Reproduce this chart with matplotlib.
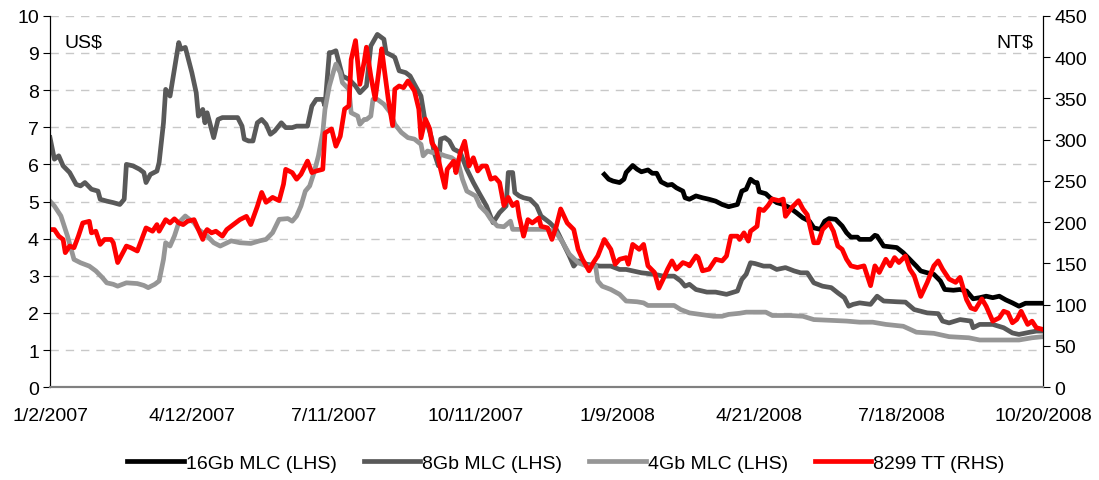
import matplotlib.pyplot as plt

plt.rcParams['font.family'] = ['Liberation Sans Narrow', 'Liberation Sans', 'DejaVu Sans']

tick_pos = [0, 65, 130, 195, 260, 325, 390, 455]
tick_labels = ['1/2/2007', '4/12/2007', '7/11/2007', '10/11/2007', '1/9/2008',
               '4/21/2008', '7/18/2008', '10/20/2008']

# trading-day index / price (US$) 16Gb MLC
x16 = [254, 256, 258, 261, 263, 264, 267, 269, 271, 274, 276, 278, 280, 283, 285, 287, 290, 291, 293,
       296, 299, 302, 305, 308, 311, 315, 317, 319, 321, 323, 324, 325, 328, 330, 333, 336, 339, 342,
       345, 348, 350, 353, 355, 357, 360, 363, 365, 367, 370,
       371, 376, 378, 379, 382, 385, 388, 391, 394, 397, 399, 402, 405, 408, 410, 414, 417, 420, 423,
       426, 429, 432, 435, 438, 441, 444, 447, 450, 455]
y16 = [5.73, 5.6, 5.55, 5.51, 5.6, 5.78, 5.97, 5.87, 5.8, 5.85, 5.76, 5.76, 5.53, 5.44, 5.46, 5.37, 5.28, 5.1, 5.06,
       5.15, 5.1, 5.06, 5.01, 4.92, 4.86, 4.92, 5.28, 5.33, 5.6, 5.51, 5.51, 5.26, 5.21, 5.1, 4.97, 4.92, 4.83, 4.7,
       4.56, 4.47, 4.29, 4.25, 4.47, 4.54, 4.52, 4.34, 4.16, 4.04, 4.04,
       3.98, 3.98, 4.09, 4.07, 3.8, 3.78, 3.76, 3.62, 3.44, 3.26, 3.13, 3.08, 3.04, 2.86, 2.63, 2.61, 2.63, 2.59, 2.38,
       2.41, 2.45, 2.41, 2.45, 2.35, 2.27, 2.18, 2.26, 2.26, 2.26]

# 8Gb MLC
x8 = [0, 2, 4, 6, 9, 12, 14, 16, 19, 22, 23, 26, 29, 32, 34, 35, 38, 41, 43, 44, 46, 49, 50, 52, 53, 55, 57,
      59, 60, 62, 65, 67, 68, 70, 71, 72, 75, 77, 79, 83, 86, 88, 89, 91, 93, 95, 97, 99, 101, 103, 106, 108,
      111, 113, 116, 118, 120, 122, 125, 126, 128, 129, 131, 132, 134, 137, 140, 142, 145, 147, 150, 153, 154,
      157, 158, 160, 163, 165, 167, 170, 172, 173, 175, 176, 178, 179, 181, 183, 185, 188, 191, 194, 197, 200,
      203, 206, 209, 210, 212, 213, 215, 217, 220, 223, 225, 229, 232, 235, 238, 240, 242, 246, 252, 257, 261,
      264, 271, 277, 281, 286, 289, 291, 293, 296, 301, 305, 310, 315, 317, 319, 321, 323, 327, 330, 333, 337,
      341, 344, 347, 350, 354, 358, 361, 364, 366, 368, 371, 376, 379, 382, 388, 392, 396, 402, 407, 409, 412,
      417, 422, 423, 426, 432, 437, 441, 444, 449, 452, 455]
y8 = [6.72, 6.14, 6.23, 5.96, 5.78, 5.46, 5.42, 5.51, 5.33, 5.28, 5.06, 5.01, 4.97, 4.92, 5.06, 6.0, 5.96, 5.87,
      5.78, 5.51, 5.73, 5.82, 6.05, 7.12, 8.02, 7.84, 8.56, 9.28, 9.1, 9.15, 8.47, 7.93, 7.3, 7.48, 7.12, 7.39,
      6.72, 7.21, 7.26, 7.26, 7.26, 7.03, 6.68, 6.63, 6.63, 7.12, 7.21, 7.08, 6.81, 6.9, 7.12, 6.99, 6.99, 7.03,
      7.03, 7.03, 7.57, 7.75, 7.75, 7.57, 9.01, 9.01, 9.06, 8.83, 8.38, 8.29, 8.11, 7.93, 8.11, 9.19, 9.5, 9.37,
      9.01, 8.92, 8.88, 8.52, 8.47, 8.38, 8.16, 7.84, 7.12, 7.08, 6.68, 6.32, 5.96, 6.68, 6.72, 6.63, 6.41, 6.32,
      5.87, 5.51, 5.19, 4.88, 4.43, 4.7, 4.88, 5.78, 5.78, 5.24, 5.15, 5.1, 5.06, 4.88, 4.61, 4.43, 4.25, 3.89,
      3.53, 3.26, 3.4, 3.31, 3.26, 3.26, 3.17, 3.17, 3.08, 3.04, 2.99, 2.99, 2.86, 2.72, 2.77, 2.63, 2.56, 2.56,
      2.5, 2.59, 2.9, 3.04, 3.35, 3.33, 3.26, 3.26, 3.17, 3.22, 3.13, 3.08, 3.08, 2.81, 2.72, 2.68, 2.54, 2.41,
      2.18, 2.23, 2.27, 2.23, 2.45, 2.32, 2.3, 2.29, 2.09, 2.0, 1.98, 1.78, 1.73, 1.82, 1.78, 1.6, 1.69, 1.69,
      1.6, 1.46, 1.42, 1.48, 1.51, 1.51]

# 4Gb MLC
x4 = [0, 2, 5, 8, 11, 14, 18, 21, 24, 26, 29, 31, 35, 40, 43, 45, 48, 50, 52, 53, 55, 57, 59, 62, 63, 66, 68,
      72, 75, 78, 83, 87, 92, 96, 99, 102, 105, 109, 111, 113, 115, 117, 119, 121, 123, 125, 126, 128, 130,
      131, 133, 134, 137, 138, 141, 142, 144, 145, 147, 148, 150, 153, 156, 158, 161, 164, 167, 170, 171, 173,
      175, 177, 181, 184, 187, 189, 191, 195, 197, 200, 202, 205, 208, 211, 212, 217, 223, 228, 232, 235, 238,
      242, 246, 250, 251, 253, 257, 261, 264, 269, 272, 274, 280, 286, 289, 293, 298, 304, 308, 311, 316, 319,
      324, 328, 331, 339, 345, 350, 357, 365, 371, 377, 383, 391, 397, 405, 412, 421, 426, 435, 444, 450, 455]
y4 = [5.01, 4.88, 4.61, 4.07, 3.44, 3.35, 3.26, 3.13, 2.95, 2.81, 2.77, 2.72, 2.81, 2.79, 2.74, 2.68, 2.77, 2.86,
      3.44, 3.89, 3.8, 4.07, 4.43, 4.61, 4.56, 4.43, 4.25, 4.07, 3.89, 3.8, 3.94, 3.89, 3.87, 3.94, 3.98, 4.16,
      4.52, 4.54, 4.47, 4.61, 4.88, 5.28, 5.42, 5.78, 6.23, 6.86, 7.48, 8.11, 8.52, 8.7, 8.47, 8.2, 8.02, 7.39,
      7.3, 7.08, 7.21, 7.21, 7.3, 7.75, 7.75, 7.62, 7.39, 7.08, 6.86, 6.72, 6.68, 6.54, 6.23, 6.36, 6.32, 6.32,
      6.23, 6.18, 6.05, 5.6, 5.28, 5.15, 4.88, 4.7, 4.52, 4.34, 4.32, 4.47, 4.25, 4.25, 4.25, 4.25, 4.16, 3.89,
      3.58, 3.35, 3.26, 3.26, 2.86, 2.72, 2.63, 2.5, 2.32, 2.3, 2.27, 2.2, 2.2, 2.2, 2.09, 2.0, 1.96, 1.91, 1.91,
      1.96, 1.99, 2.02, 2.02, 2.02, 1.93, 1.93, 1.91, 1.82, 1.8, 1.78, 1.75, 1.75, 1.69, 1.64, 1.48, 1.45, 1.36,
      1.33, 1.27, 1.27, 1.27, 1.33, 1.36]

# 8299 TT (NT$)
xtt = [0, 2, 4, 6, 7, 9, 11, 13, 15, 18, 19, 21, 23, 25, 28, 29, 31, 33, 35, 37, 40, 42, 44, 47, 49, 50, 53,
       55, 57, 59, 61, 63, 66, 68, 70, 71, 72, 74, 76, 79, 81, 84, 87, 90, 92, 95, 97, 99, 102, 105, 107, 108,
       111, 113, 115, 118, 120, 122, 125, 126, 129, 131, 133, 135, 137, 138, 140, 141, 142, 144, 145, 147, 149,
       152, 153, 155, 157, 158, 160, 162, 164, 167, 169, 170, 172, 174, 175, 177, 179, 181, 182, 185, 186, 188,
       190, 192, 194, 196, 198, 200, 202, 204, 206, 208, 210, 212, 214, 215, 217, 219, 221, 224, 225, 228, 230,
       232, 234, 237, 240, 242, 244, 247, 249, 251, 254, 257, 259, 261, 264, 265, 267, 270, 272, 274, 277, 279,
       281, 283, 285, 287, 290, 292, 293, 296, 297, 299, 302, 305, 308, 310, 312, 315, 316, 318, 320, 321, 324,
       325, 327, 329, 331, 334, 336, 337, 340, 343, 345, 347, 350, 352, 354, 357, 359, 361, 363, 365, 367, 370,
       373, 376, 378, 380, 383, 385, 387, 389, 392, 394, 396, 399, 402, 405, 407, 409, 412, 415, 417, 420, 422,
       424, 427, 429, 432, 435, 437, 439, 441, 443, 445, 448, 450, 452, 455]
ytt = [191, 191, 183, 179, 163, 171, 169, 183, 199, 201, 187, 189, 173, 179, 179, 175, 151, 161, 171, 169, 165,
       179, 193, 189, 197, 189, 203, 199, 204, 199, 197, 201, 203, 191, 179, 187, 191, 187, 189, 183, 191, 197,
       203, 207, 197, 219, 236, 224, 230, 226, 246, 264, 260, 252, 258, 274, 260, 262, 264, 308, 313, 292, 304,
       337, 341, 397, 420, 393, 367, 395, 412, 377, 349, 410, 389, 349, 317, 361, 365, 363, 371, 359, 337, 302,
       325, 313, 296, 288, 264, 242, 264, 274, 260, 284, 298, 268, 278, 262, 268, 268, 252, 254, 248, 220, 230,
       220, 224, 207, 183, 203, 199, 205, 195, 193, 179, 195, 216, 199, 191, 167, 155, 141, 151, 159, 179, 167,
       149, 155, 157, 149, 173, 167, 173, 147, 139, 120, 131, 143, 153, 143, 151, 149, 147, 159, 157, 141, 143,
       155, 153, 159, 183, 183, 179, 187, 177, 189, 195, 216, 214, 220, 228, 226, 228, 207, 218, 226, 216, 209,
       175, 175, 191, 199, 189, 171, 167, 155, 147, 145, 147, 123, 147, 139, 155, 147, 157, 151, 159, 143, 135,
       110, 127, 147, 153, 143, 131, 127, 133, 106, 96, 94, 107, 98, 80, 84, 92, 90, 78, 82, 92, 76, 80, 72, 70]

fig = plt.figure(figsize=(10.99, 4.81), dpi=100)
ax = fig.add_axes([0.0455, 0.193, 0.9035, 0.772])
ax2 = ax.twinx()

l1, = ax.plot(x16, y16, color='black', lw=3.4, label='16Gb MLC (LHS)')
l2, = ax.plot(x8, y8, color='#595959', lw=3.4, label='8Gb MLC (LHS)')
l3, = ax.plot(x4, y4, color='#969696', lw=3.4, label='4Gb MLC (LHS)')
l4, = ax2.plot(xtt, ytt, color='#ff0000', lw=3.4, label='8299 TT (RHS)')

ax.set_xlim(0, 455)
ax.set_ylim(0, 10)
ax2.set_ylim(0, 450)
ax.set_yticks(range(0, 11))
ax2.set_yticks(range(0, 451, 50))
ax.set_xticks(tick_pos)
ax.set_xticklabels(tick_labels)

ax.grid(axis='y', color='#c8c8c8', ls=(0, (6, 5)), lw=1)
ax.set_axisbelow(True)
for a in (ax, ax2):
    a.spines['top'].set_visible(False)
    a.spines['bottom'].set_color('#808080')
    a.spines['bottom'].set_linewidth(1.5)
ax.tick_params(axis='y', direction='out', length=5, labelsize=14, pad=3)
ax2.tick_params(axis='y', direction='out', length=5, labelsize=14, pad=3)
ax.tick_params(axis='x', length=0, labelsize=14, pad=14)

ax.text(0.015, 0.93, 'US$', transform=ax.transAxes, fontsize=14, va='center', ha='left')
ax2.text(0.99, 0.93, 'NT$', transform=ax.transAxes, fontsize=14, va='center', ha='right')

fig.legend(handles=[l1, l2, l3, l4], loc='center', bbox_to_anchor=(0.515, 0.035), ncol=4,
           frameon=False, fontsize=14, handlelength=2.9, handletextpad=0.1, columnspacing=1.4)

fig.savefig('out.png', dpi=100)
